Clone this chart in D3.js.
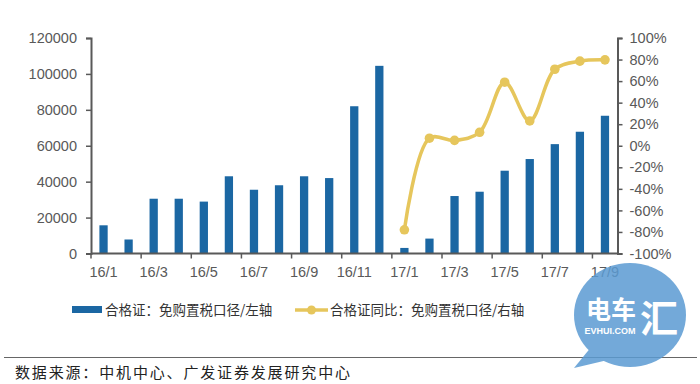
<!DOCTYPE html>
<html><head><meta charset="utf-8">
<script src="https://cdn.jsdelivr.net/npm/d3@7/dist/d3.min.js"></script>
<style>html,body{margin:0;padding:0;background:#fff;}svg{display:block;}</style>
</head><body>
<svg id="c" width="700" height="384"></svg>
<script>
const categories = ["16/1","16/2","16/3","16/4","16/5","16/6","16/7","16/8","16/9","16/10","16/11","16/12",
                    "17/1","17/2","17/3","17/4","17/5","17/6","17/7","17/8","17/9"];
const certCounts = [15700,7800,30500,30500,28900,43000,35500,38000,43000,42000,82000,104500,
                    3100,8300,32000,34400,46100,52600,60900,67800,76700];
const yoyCats = ["17/1","17/2","17/3","17/4","17/5","17/6","17/7","17/8","17/9"];
const yoyValues = [-0.78,0.07,0.05,0.125,0.59,0.23,0.71,0.785,0.797];
const leftTicks = [0,20000,40000,60000,80000,100000,120000];
const rightTicks = [-1,-0.8,-0.6,-0.4,-0.2,0,0.2,0.4,0.6,0.8,1];
const xTickLabels = ["16/1","16/3","16/5","16/7","16/9","16/11","17/1","17/3","17/5","17/7","17/9"];
const legendLabels = ["合格证：免购置税口径/左轴","合格证同比：免购置税口径/右轴"];
const sourceText = "数据来源：中机中心、广发证券发展研究中心";

const svg = d3.select("#c");
const L = 91, R = 617.5, B = 253.5, T = 38;
const axisColor = "#595959", textColor = "#595959";
const barColor = "#1B67A3", lineColor = "#E6C65C";
const tickFont = "Liberation Sans, Arial, sans-serif";
const cjkFont = "Noto Sans CJK SC, sans-serif";

const x = d3.scaleBand().domain(categories).range([L, R]).paddingInner(0.67).paddingOuter(0.335);
const yL = d3.scaleLinear().domain([0,120000]).range([B, T]);
const yR = d3.scaleLinear().domain([-1,1]).range([B, T]);

// bars
svg.append("g").selectAll("rect").data(certCounts).join("rect")
  .attr("x",(d,i)=>x(categories[i])).attr("width",x.bandwidth())
  .attr("y",d=>yL(d)).attr("height",d=>B-yL(d)).attr("fill",barColor);

// axes
const gL = svg.append("g").attr("transform",`translate(${L},0)`)
  .call(d3.axisLeft(yL).tickValues(leftTicks).tickFormat(d3.format("d")).tickSizeOuter(0).tickSize(5).tickPadding(9));
const gR = svg.append("g").attr("transform",`translate(${R},0)`)
  .call(d3.axisRight(yR).tickValues(rightTicks).tickFormat(d3.format(".0%")).tickSizeOuter(0).tickSize(5).tickPadding(7));
[gL,gR].forEach(g=>{
  g.select(".domain").attr("stroke",axisColor).attr("stroke-width",2);
  g.selectAll(".tick line").attr("stroke",axisColor).attr("stroke-width",1.5);
  g.selectAll(".tick text").attr("fill",textColor).style("font-family",tickFont).style("font-size","14.5px");
});
gR.selectAll(".tick text").text(d=>d3.format(".0%")(d).replace("−","-"));

// x axis
const step = x.step(), half = step*x.paddingInner()/2;
const gX = svg.append("g");
gX.append("line").attr("x1",L).attr("x2",R).attr("y1",B).attr("y2",B).attr("stroke",axisColor).attr("stroke-width",2);
xTickLabels.forEach(lbl=>{
  const bx = x(lbl) - half;
  gX.append("line").attr("x1",bx).attr("x2",bx).attr("y1",B).attr("y2",B+5).attr("stroke",axisColor).attr("stroke-width",1.5);
  gX.append("text").attr("x",x(lbl)+x.bandwidth()/2).attr("y",B+23).attr("text-anchor","middle")
    .attr("fill",textColor).style("font-family",tickFont).style("font-size","14.5px").text(lbl);
});

// line
const pts = yoyValues.map((v,i)=>[x(yoyCats[i])+x.bandwidth()/2, yR(v)]);
svg.append("path").attr("d",d3.line().curve(d3.curveCatmullRom.alpha(0.5))(pts))
  .attr("fill","none").attr("stroke",lineColor).attr("stroke-width",3.5);
svg.append("g").selectAll("circle").data(pts).join("circle")
  .attr("cx",d=>d[0]).attr("cy",d=>d[1]).attr("r",4.8).attr("fill",lineColor);

// legend
const lg = svg.append("g");
lg.append("rect").attr("x",72).attr("y",306).attr("width",30).attr("height",7).attr("fill",barColor);
lg.append("text").attr("x",105).attr("y",315).attr("fill","#333").style("font-family",cjkFont).style("font-size","13.5px").text(legendLabels[0]);
lg.append("line").attr("x1",295).attr("x2",328).attr("y1",310).attr("y2",310).attr("stroke",lineColor).attr("stroke-width",3.5);
lg.append("circle").attr("cx",311.5).attr("cy",310).attr("r",4.5).attr("fill",lineColor);
lg.append("text").attr("x",330).attr("y",315).attr("fill","#333").style("font-family",cjkFont).style("font-size","13.5px").text(legendLabels[1]);

// source
svg.append("line").attr("x1",4).attr("x2",697).attr("y1",357.5).attr("y2",357.5).attr("stroke","#666").attr("stroke-width",1);
svg.append("text").attr("x",15).attr("y",378).attr("fill","#222").attr("textLength",335)
  .style("font-family",cjkFont).style("font-size","15px").text(sourceText);

// watermark
const wm = svg.append("g").attr("opacity",0.85);
wm.append("path").attr("d","M 592 346 L 574 368 L 612 359 Z").attr("fill","#5B9BD3");
wm.append("ellipse").attr("cx",630).attr("cy",315).attr("rx",56).attr("ry",52).attr("fill","#5B9BD3");
wm.append("text").attr("x",611).attr("y",319).attr("text-anchor","middle").attr("fill","#fff")
  .style("font-family",cjkFont).style("font-weight","bold").style("font-size","25px").text("电车");
wm.append("text").attr("x",659).attr("y",332).attr("text-anchor","middle").attr("fill","#fff")
  .style("font-family",cjkFont).style("font-weight","bold").style("font-size","38px").text("汇");
wm.append("text").attr("x",610).attr("y",334).attr("text-anchor","middle").attr("fill","#fff")
  .style("font-family",tickFont).style("font-weight","bold").style("font-size","9px").text("EVHUI.COM");
</script>
</body></html>
